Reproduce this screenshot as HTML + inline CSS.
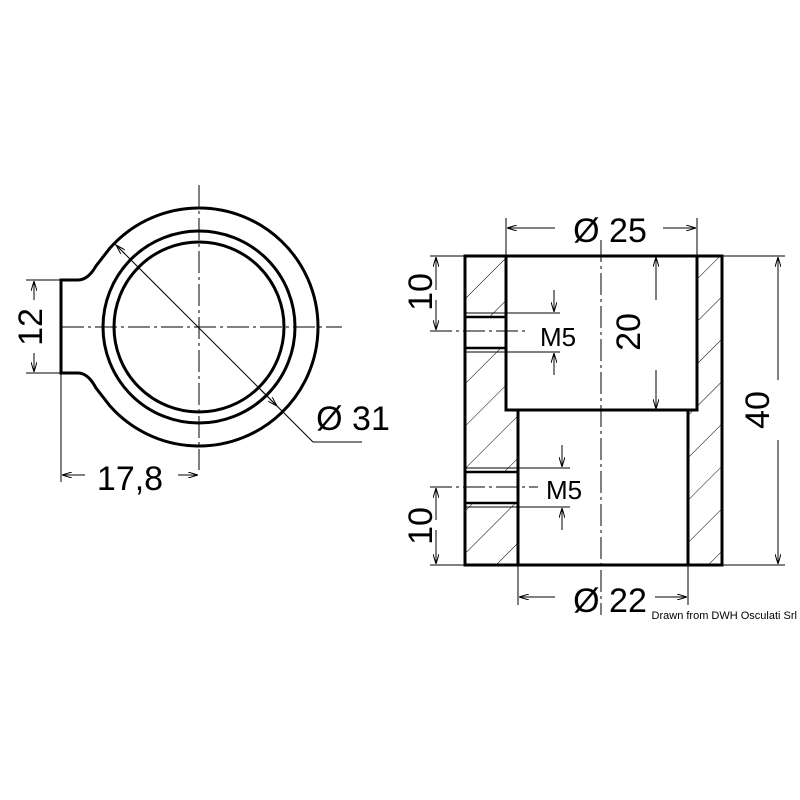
<!DOCTYPE html>
<html><head><style>body{margin:0;background:#fff}svg{display:block}</style></head><body>
<svg width="800" height="800" viewBox="0 0 800 800" xmlns="http://www.w3.org/2000/svg" font-family="Liberation Sans, sans-serif">
<defs>
<marker id="a" viewBox="0 0 10 6" refX="10" refY="3" markerWidth="10" markerHeight="6" orient="auto-start-reverse" markerUnits="userSpaceOnUse"><path d="M0,0 L10,3 L0,6" fill="none" stroke="#000" stroke-width="1"/></marker>
<pattern id="h" patternUnits="userSpaceOnUse" width="30" height="30" patternTransform="rotate(45)"><line x1="0" y1="0" x2="0" y2="30" stroke="#000" stroke-width="1"/></pattern>
</defs>
<g fill="none" stroke="#000">
<path d="M61,280 L78,280 Q88,280 96,266 L110,248 A119,119 0 1 1 110,406 L96,388 Q88,373 78,373 L61,373 Z" stroke-width="3"/>
<circle cx="199" cy="327" r="96" stroke-width="3"/>
<circle cx="199" cy="327" r="85" stroke-width="3"/>
<line x1="199" y1="185" x2="199" y2="470" stroke-width="1" stroke-dasharray="22,4,3,4"/>
<line x1="62" y1="327" x2="342" y2="327" stroke-width="1" stroke-dasharray="22,4,3,4"/>
<line x1="115" y1="244" x2="313" y2="442" stroke-width="1"/>
<line x1="313" y1="442" x2="362" y2="442" stroke-width="1"/>
<line x1="125" y1="254" x2="116" y2="245" stroke-width="1" marker-end="url(#a)"/>
<line x1="260" y1="389" x2="277" y2="406" stroke-width="1" marker-end="url(#a)"/>
<line x1="26" y1="280" x2="61" y2="280" stroke-width="1"/>
<line x1="26" y1="373" x2="61" y2="373" stroke-width="1"/>
<line x1="34" y1="300" x2="34" y2="281" stroke-width="1" marker-end="url(#a)"/>
<line x1="34" y1="353" x2="34" y2="372" stroke-width="1" marker-end="url(#a)"/>
<line x1="61" y1="373" x2="61" y2="482" stroke-width="1"/>
<line x1="85" y1="475" x2="62" y2="475" stroke-width="1" marker-end="url(#a)"/>
<line x1="178" y1="475" x2="198" y2="475" stroke-width="1" marker-end="url(#a)"/>
<path d="M465,256 L506,256 L506,410 L518,410 L518,565 L465,565 Z" fill="url(#h)" stroke="none"/>
<path d="M697,256 L722,256 L722,565 L688,565 L688,410 L697,410 Z" fill="url(#h)" stroke="none"/>
<rect x="466" y="316" width="39" height="33" fill="#fff" stroke="none"/>
<rect x="466" y="471" width="51" height="32" fill="#fff" stroke="none"/>
<path d="M465,256 L722,256 L722,565 L465,565 Z" stroke-width="3"/>
<path d="M506,256 L506,410 L697,410 L697,256" stroke-width="3"/>
<path d="M518,410 L518,565 M688,410 L688,565" stroke-width="3"/>
<path d="M465,317 L506,317 M465,348 L506,348 M465,472 L518,472 M465,503 L518,503" stroke-width="2.5"/>
<path d="M465,313 L506,313 M465,352 L506,352 M465,468 L518,468 M465,507 L518,507" stroke-width="1"/>
<line x1="601" y1="240" x2="601" y2="615" stroke-width="1" stroke-dasharray="22,4,3,4"/>
<line x1="430" y1="331" x2="525" y2="331" stroke-width="1" stroke-dasharray="22,4,3,4"/>
<line x1="430" y1="487" x2="538" y2="487" stroke-width="1" stroke-dasharray="22,4,3,4"/>
<line x1="506" y1="218" x2="506" y2="256" stroke-width="1"/>
<line x1="697" y1="218" x2="697" y2="256" stroke-width="1"/>
<line x1="555" y1="228" x2="507" y2="228" stroke-width="1" marker-end="url(#a)"/>
<line x1="663" y1="228" x2="696" y2="228" stroke-width="1" marker-end="url(#a)"/>
<line x1="518" y1="565" x2="518" y2="605" stroke-width="1"/>
<line x1="688" y1="565" x2="688" y2="605" stroke-width="1"/>
<line x1="555" y1="597" x2="519" y2="597" stroke-width="1" marker-end="url(#a)"/>
<line x1="655" y1="597" x2="687" y2="597" stroke-width="1" marker-end="url(#a)"/>
<line x1="656" y1="300" x2="656" y2="257" stroke-width="1" marker-end="url(#a)"/>
<line x1="656" y1="370" x2="656" y2="409" stroke-width="1" marker-end="url(#a)"/>
<line x1="722" y1="256" x2="785" y2="256" stroke-width="1"/>
<line x1="722" y1="565" x2="785" y2="565" stroke-width="1"/>
<line x1="778" y1="380" x2="778" y2="257" stroke-width="1" marker-end="url(#a)"/>
<line x1="778" y1="440" x2="778" y2="564" stroke-width="1" marker-end="url(#a)"/>
<line x1="430" y1="256" x2="465" y2="256" stroke-width="1"/>
<line x1="436" y1="290" x2="436" y2="257" stroke-width="1" marker-end="url(#a)"/>
<line x1="436" y1="300" x2="436" y2="330" stroke-width="1" marker-end="url(#a)"/>
<line x1="430" y1="565" x2="465" y2="565" stroke-width="1"/>
<line x1="436" y1="520" x2="436" y2="488" stroke-width="1" marker-end="url(#a)"/>
<line x1="436" y1="530" x2="436" y2="564" stroke-width="1" marker-end="url(#a)"/>
<line x1="506" y1="313" x2="560" y2="313" stroke-width="1"/>
<line x1="506" y1="352" x2="560" y2="352" stroke-width="1"/>
<line x1="554" y1="290" x2="554" y2="312" stroke-width="1" marker-end="url(#a)"/>
<line x1="554" y1="375" x2="554" y2="353" stroke-width="1" marker-end="url(#a)"/>
<line x1="518" y1="468" x2="570" y2="468" stroke-width="1"/>
<line x1="518" y1="507" x2="570" y2="507" stroke-width="1"/>
<line x1="562" y1="445" x2="562" y2="467" stroke-width="1" marker-end="url(#a)"/>
<line x1="562" y1="530" x2="562" y2="508" stroke-width="1" marker-end="url(#a)"/>
</g>
<g fill="#000" font-size="34" text-anchor="middle">
<text x="353" y="430">Ø 31</text>
<text x="130" y="490">17,8</text>
<text transform="translate(42,327) rotate(-90)">12</text>
<text x="610" y="242">Ø 25</text>
<text x="610" y="612">Ø 22</text>
<text transform="translate(640,332) rotate(-90)">20</text>
<text transform="translate(769,410) rotate(-90)">40</text>
<text transform="translate(432,292) rotate(-90)">10</text>
<text transform="translate(432,526) rotate(-90)">10</text>
<text x="558" y="346" font-size="26">M5</text>
<text x="564" y="499" font-size="26">M5</text>
<text x="797" y="619" font-size="11" text-anchor="end">Drawn from DWH Osculati Srl</text>
</g>
</svg>
</body></html>
